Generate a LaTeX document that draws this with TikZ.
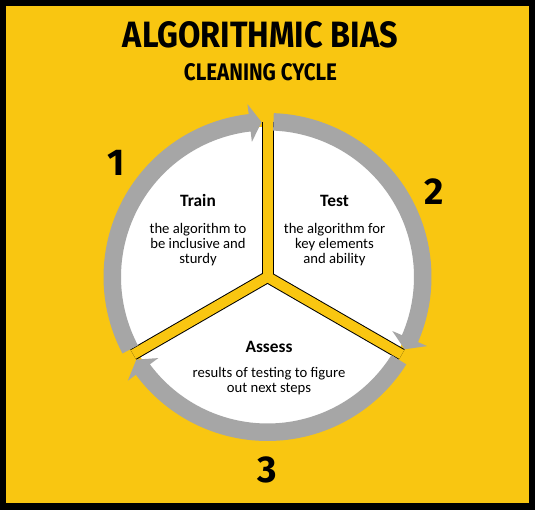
\documentclass[tikz,border=0pt]{standalone}
\usepackage{fontspec}
\setmainfont{Carlito}
\newfontfamily\titlefont{Fira Sans}
\usepackage{graphicx}
\usepackage{tikz}
\usetikzlibrary{positioning}

\definecolor{cycyellow}{RGB}{249,198,17}
\definecolor{ringgray}{RGB}{166,166,166}

\begin{document}
\begin{tikzpicture}[x=0.75pt, y=0.75pt,
  head/.style={font=\bfseries\fontsize{13}{15}\selectfont, inner sep=0pt},
  desc/.style={font=\fontsize{11}{11.25}\selectfont, align=center, inner sep=0pt},
  num/.style={font=\titlefont\bfseries\fontsize{28}{30}\selectfont, inner sep=0pt}]
  % Frame
  \useasboundingbox (0,0) rectangle (535,517);
  \fill[black] (0,7) rectangle (535,517);
  \fill[cycyellow] (6,14) rectangle (529,511);

  % Title
  \node[inner sep=0pt] (title) at (260.5,482)
    {\resizebox{206.25pt}{19.5pt}{\titlefont\bfseries ALGORITHMIC BIAS}};
  \node[inner sep=0pt] (subtitle) at (260.5,444.5)
    {\resizebox{114.75pt}{12.75pt}{\titlefont\bfseries CLEANING CYCLE}};

  % Disc, spokes and arrows
  \begin{scope}[shift={(267.5,240)}]
    \fill[white] (0,0) circle (150);
    \foreach \a in {90,-30,210}
      \draw[black, line width=9pt] (0,0) -- (\a:155);
    \foreach \a in {90,-30,210}
      \draw[cycyellow, line width=7.5pt] (0,0) -- (\a:155);
    \foreach \s/\e in {207.8/92.2, 87.8/-27.8, -32.2/-147.8} {
      \fill[ringgray] (\s:164) arc[start angle=\s, end angle=\e+4.4, radius=164]
        -- (\e+4.4:174) -- (\e:155) -- (\e+4.4:136) -- (\e+4.4:146.5)
        arc[start angle=\e+4.4, end angle=\s, radius=146.5] -- cycle;
    }
  \end{scope}

  % Steps
  \node[head, anchor=base] (train) at (198,310.3) {Train};
  \node[desc, below=12pt of train] (traindesc)
    {the algorithm to\\be inclusive and\\sturdy};
  \node[head, anchor=base] (test) at (334.5,310.3) {Test};
  \node[desc, below=12pt of test] (testdesc)
    {the algorithm for\\key elements\\and ability};
  \node[head, anchor=base] (assess) at (269,164.7) {Assess};
  \node[desc, below=11pt of assess] (assessdesc)
    {results of testing to figure\\out next steps};

  % Numbers
  \node[num] (num1) at (116.5,354) {1};
  \node[num] (num2) at (434.5,325.5) {2};
  \node[num] (num3) at (267.5,47.5) {3};
\end{tikzpicture}
\end{document}
